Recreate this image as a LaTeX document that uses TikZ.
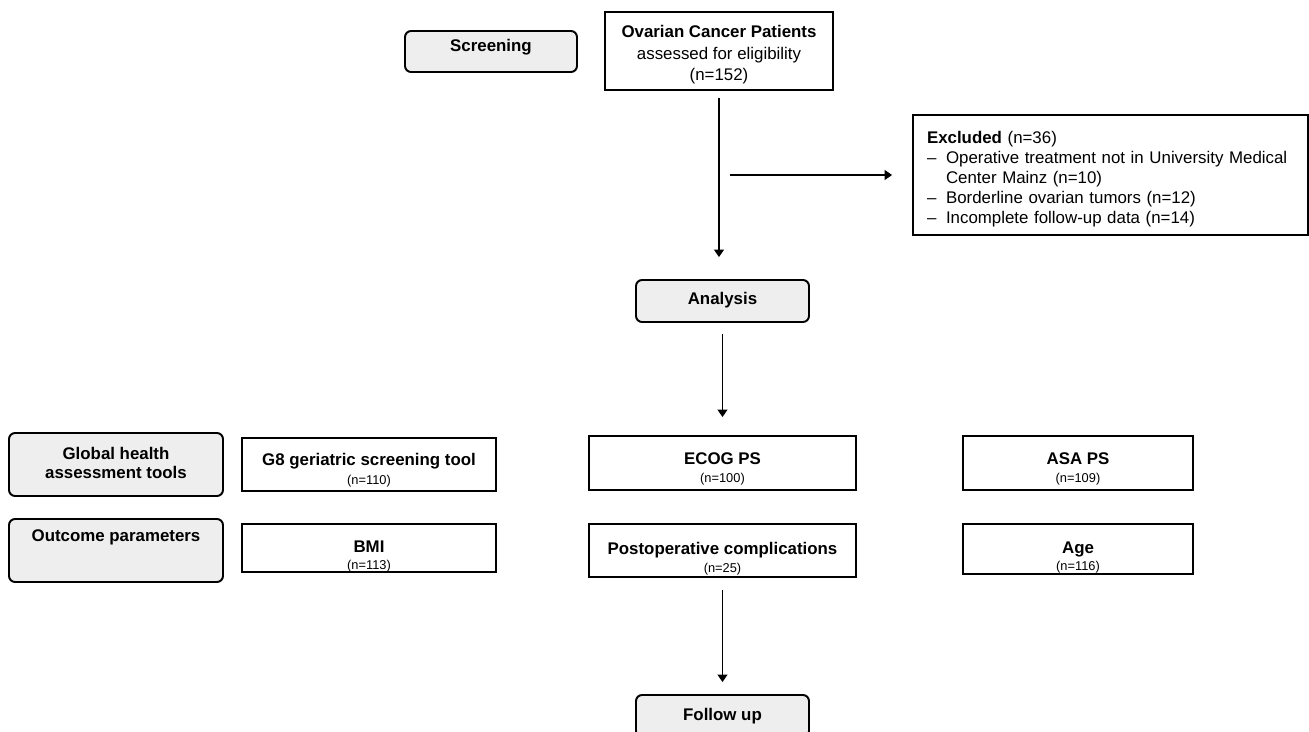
\documentclass[tikz,border=0pt]{standalone}
\usepackage{fontspec}
\setmainfont{Liberation Sans}
\usetikzlibrary{arrows.meta}
\definecolor{stagegray}{RGB}{238,238,238}
\newcommand{\ncount}[1]{{\fontsize{7.3}{8}\selectfont #1}}
% title, count, space above, extra skip, space below
\newcommand{\boxtext}[5]{\rule{0pt}{#3}\textbf{#1}\\[#4]\rule[-#5]{0pt}{#5}\ncount{#2}}

\begin{document}
\begin{tikzpicture}[x=0.02cm,y=-0.02cm,
    stage/.style={draw,line width=1.1pt,rounded corners=0.12cm,fill=stagegray,align=center,
      font=\fontsize{9.6}{11.6}\selectfont\bfseries,inner sep=0pt},
    box/.style={draw,line width=1.1pt,align=center,font=\fontsize{9.6}{11.6}\selectfont,inner sep=0pt},
    arr/.style={line width=0.7pt,-{Triangle[length=1.5mm,width=2mm]}}]
    \useasboundingbox (0,0) rectangle (1309,731);

    % Stages
    \node[stage,minimum width=3.44cm,minimum height=0.82cm] (screening) at (491,51.5) {Screening\rule[-7.4pt]{0pt}{7.4pt}};
    \node[stage,minimum width=3.46cm,minimum height=0.84cm] (analysis) at (722.5,301) {Analysis\rule[-3pt]{0pt}{3pt}};
    \node[stage,minimum width=4.28cm,minimum height=1.26cm] (global) at (116,464.5)
      {\rule{0pt}{14.7pt}Global health\\[-0.3pt]assessment tools\rule[-9.6pt]{0pt}{9.6pt}};
    \node[stage,minimum width=4.28cm,minimum height=1.26cm] (outcome) at (116,550.5)
      {\rule{0pt}{12.9pt}Outcome parameters\rule[-22.9pt]{0pt}{22.9pt}};
    \node[stage,minimum width=3.46cm,minimum height=0.84cm] (followup) at (722.5,716) {Follow up};

    % Patients
    \node[box,minimum width=4.56cm,minimum height=1.56cm,font=\fontsize{9.6}{12.2}\selectfont] (ovarian) at (719,51)
      {\rule{0pt}{14.6pt}\textbf{Ovarian Cancer Patients}\\assessed for eligibility\\(n=152)\rule[-5.1pt]{0pt}{5.1pt}};
    \node[box,minimum width=7.9cm,minimum height=2.4cm,text width=7.34cm,inner xsep=0.28cm,align=left,
      font=\fontsize{9.6}{11.5}\selectfont] (excluded) at (1110.5,175)
      {\rule{0pt}{15.9pt}\textbf{Excluded} (n=36)\\
       \makebox[0.38cm][l]{–}Operative treatment not in University Medical\\
       \hspace*{0.38cm}Center Mainz (n=10)\\
       \makebox[0.38cm][l]{–}Borderline ovarian tumors (n=12)\\
       \makebox[0.38cm][l]{–}Incomplete follow-up data (n=14)\rule[-6.2pt]{0pt}{6.2pt}};

    % Tools and parameters
    \node[box,minimum width=5.08cm,minimum height=1.02cm] (g8) at (369,464.5)
      {\boxtext{G8 geriatric screening tool}{(n=110)}{15.5pt}{-0.9pt}{3.5pt}};
    \node[box,minimum width=5.08cm,minimum height=0.96cm] (bmi) at (369,548)
      {\boxtext{BMI}{(n=113)}{16.2pt}{-1.7pt}{1.5pt}};
    \node[box,minimum width=5.34cm,minimum height=1.08cm] (ecog) at (722.5,463)
      {\boxtext{ECOG PS}{(n=100)}{15.5pt}{-0.9pt}{3.5pt}};
    \node[box,minimum width=5.34cm,minimum height=1.06cm] (postop) at (722.5,550.5)
      {\boxtext{Postoperative complications}{(n=25)}{16.2pt}{-1.7pt}{1.5pt}};
    \node[box,minimum width=4.6cm,minimum height=1.08cm] (asa) at (1078,463)
      {\boxtext{ASA PS}{(n=109)}{15.5pt}{-0.9pt}{3.5pt}};
    \node[box,minimum width=4.6cm,minimum height=1.0cm] (age) at (1078,549)
      {\boxtext{Age}{(n=116)}{16.2pt}{-1.7pt}{1.5pt}};

    % Connections
    \coordinate (o1) at (ovarian.south |- analysis.north);
    \coordinate (exc) at (ovarian.south |- excluded.west);
    \coordinate (a1) at (analysis.south |- ecog.north);
    \coordinate (f1) at (followup.north |- postop.south);
    \draw[arr,shorten <=0.14cm,shorten >=0.44cm] (ovarian.south) -- (o1);
    \draw[arr,shorten <=0.22cm,shorten >=0.4cm] (exc) -- (excluded.west);
    \draw[arr,shorten <=0.22cm,shorten >=0.36cm] (analysis.south) -- (a1);
    \draw[arr,shorten <=0.24cm,shorten >=0.24cm] (f1) -- (followup.north);
\end{tikzpicture}
\end{document}
